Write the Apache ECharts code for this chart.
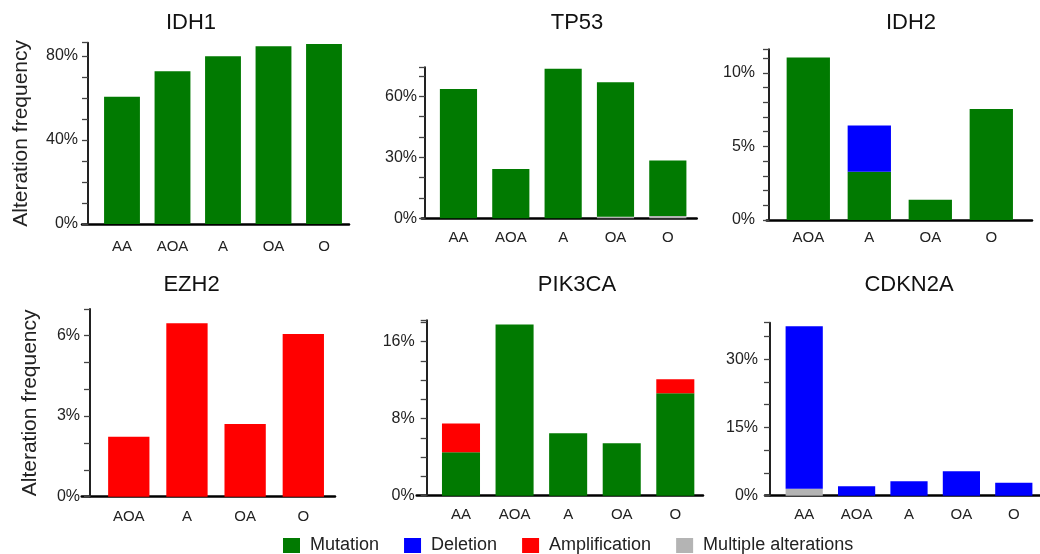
<!DOCTYPE html>
<html><head><meta charset="utf-8">
<script src="https://cdn.jsdelivr.net/npm/echarts@6/dist/echarts.min.js"></script>
<style>html,body{margin:0;padding:0;background:#fff}#c{width:1040px;height:554px}</style>
</head><body><div id="c"></div>
<script>
// ---------- data ----------
const idh1Categories = ['AA', 'AOA', 'A', 'OA', 'O'];
const idh1Mutation = [60.6, 72.7, 79.8, 84.6, 85.7];

const tp53Categories = ['AA', 'AOA', 'A', 'OA', 'O'];
const tp53Mutation = [63.6, 24.3, 73.6, 66.2, 27.4];
const tp53Multiple = [0, 0, 0, 0.8, 1.1];

const idh2Categories = ['AOA', 'A', 'OA', 'O'];
const idh2Mutation = [11.05, 3.28, 1.38, 7.54];
const idh2Deletion = [0, 3.15, 0, 0];

const ezh2Categories = ['AOA', 'A', 'OA', 'O'];
const ezh2Amplification = [2.23, 6.45, 2.70, 6.05];

const pik3caCategories = ['AA', 'AOA', 'A', 'OA', 'O'];
const pik3caMutation = [4.5, 17.76, 6.47, 5.43, 10.64];
const pik3caAmplification = [3.0, 0, 0, 0, 1.45];

const cdkn2aCategories = ['AA', 'AOA', 'A', 'OA', 'O'];
const cdkn2aMultiple = [1.5, 0, 0, 0, 0];
const cdkn2aDeletion = [35.7, 2.1, 3.15, 5.35, 2.86];

const panelTitles = ['IDH1', 'TP53', 'IDH2', 'EZH2', 'PIK3CA', 'CDKN2A'];
const axisMaxima = [86.3, 74.3, 11.6, 6.98, 18.2, 38];
const tickSteps = [10, 10, 1, 1, 2, 5];
const labelSteps = [40, 30, 5, 3, 8, 15];
const legendNames = ['Mutation', 'Deletion', 'Amplification', 'Multiple alterations'];
const yAxisTitle = 'Alteration frequency';

// ---------- panel composition ----------
const panelCategories = [idh1Categories, tp53Categories, idh2Categories, ezh2Categories, pik3caCategories, cdkn2aCategories];
const panelSeriesData = [
  {'Mutation': idh1Mutation},
  {'Multiple alterations': tp53Multiple, 'Mutation': tp53Mutation},
  {'Mutation': idh2Mutation, 'Deletion': idh2Deletion},
  {'Amplification': ezh2Amplification},
  {'Mutation': pik3caMutation, 'Amplification': pik3caAmplification},
  {'Multiple alterations': cdkn2aMultiple, 'Deletion': cdkn2aDeletion}
];
const stackOrder = ['Multiple alterations', 'Mutation', 'Deletion', 'Amplification'];
const typeColors = {'Mutation': '#017a01', 'Deletion': '#0000ff', 'Amplification': '#ff0000', 'Multiple alterations': '#b4b4b4'};

// ---------- layout (pixels) ----------
const panelLayout = [
  {lineL: 82, axisX: 88, lineR: 349, barL: 96.75, barR: 349.25, top: 42.7, zero: 224, titleX: 191, titleY: 23, catMargin: 15, labelMargin: 10, nameGap: 56},
  {lineL: 421.7, axisX: 425, lineR: 696.7, barL: 432.3, barR: 694, top: 67.3, zero: 218.3, titleX: 577, titleY: 23, catMargin: 12, labelMargin: 8},
  {lineL: 766.7, axisX: 769, lineR: 1032, barL: 777.8, barR: 1021.8, top: 49.3, zero: 220, titleX: 911, titleY: 23, catMargin: 10, labelMargin: 14},
  {lineL: 81.7, axisX: 90, lineR: 335, barL: 99.7, barR: 332.4, top: 309, zero: 496.7, titleX: 191.5, titleY: 285, catMargin: 13, labelMargin: 10, nameGap: 49},
  {lineL: 416.7, axisX: 426.7, lineR: 703, barL: 434.2, barR: 702.1, top: 320.3, zero: 495.7, titleX: 577, titleY: 285, catMargin: 12, labelMargin: 12},
  {lineL: 765, axisX: 770, lineR: 1045, barL: 778, barR: 1048, top: 322.7, zero: 495.7, titleX: 909, titleY: 285, catMargin: 12, labelMargin: 12}
];

const FONT = '"Liberation Sans", Arial, Helvetica, sans-serif';

const option = {
  animation: false,
  backgroundColor: '#ffffff',
  grid: [], xAxis: [], yAxis: [], series: [], graphic: [],
  legend: {
    data: legendNames, left: 278, top: 531.5, itemWidth: 17, itemHeight: 15, itemGap: 25, icon: 'rect',
    textStyle: {fontSize: 18, color: '#222', fontFamily: FONT, padding: [0, 0, 0, 5]},
    selectedMode: false
  }
};

panelLayout.forEach((L, i) => {
  const h = L.zero - L.top;
  const ga = 2 * i, gb = 2 * i + 1;
  option.grid.push({left: L.lineL, top: L.top, width: L.lineR - L.lineL, height: h});
  option.grid.push({left: L.barL, top: L.top, width: L.barR - L.barL, height: h});
  const step = labelSteps[i];
  option.xAxis.push({
    type: 'value', gridIndex: ga, min: 0, max: 1,
    axisLine: {show: true, onZero: false, lineStyle: {color: '#000', width: 2.5}},
    axisTick: {show: false}, axisLabel: {show: false}, splitLine: {show: false}
  });
  option.yAxis.push({
    type: 'value', gridIndex: ga, min: 0, max: axisMaxima[i], interval: tickSteps[i],
    offset: -(L.axisX - L.lineL), z: 5,
    axisLine: {show: true, lineStyle: {color: '#222', width: 2}},
    axisTick: {show: true, length: 6, lineStyle: {color: '#444', width: 1.3}},
    axisLabel: {
      margin: L.labelMargin, fontSize: 16, color: '#222', fontFamily: FONT,
      showMaxLabel: true,
      formatter: v => (Math.abs(v / step - Math.round(v / step)) < 1e-6 ? Math.round(v) + '%' : '')
    },
    splitLine: {show: false},
    name: L.nameGap ? yAxisTitle : '', nameLocation: 'middle', nameRotate: 90, nameGap: L.nameGap || 0,
    nameTextStyle: {fontSize: 21, color: '#222', fontFamily: FONT}
  });
  option.xAxis.push({
    type: 'category', gridIndex: gb, data: panelCategories[i],
    axisLine: {show: false}, axisTick: {show: false},
    axisLabel: {margin: L.catMargin, fontSize: 15, color: '#222', fontFamily: FONT, interval: 0}
  });
  option.yAxis.push({type: 'value', gridIndex: gb, min: 0, max: axisMaxima[i], show: false, splitLine: {show: false}});
  stackOrder.forEach(name => {
    const d = panelSeriesData[i][name];
    if (!d) return;
    option.series.push({
      type: 'bar', name: name, xAxisIndex: gb, yAxisIndex: gb, stack: 'p' + i,
      data: d, barWidth: '71%', itemStyle: {color: typeColors[name]}
    });
  });
  option.graphic.push({
    type: 'text', x: L.titleX, y: L.titleY,
    style: {text: panelTitles[i], fontSize: 22, fontFamily: FONT, fill: '#111', align: 'center', verticalAlign: 'middle'}
  });
});

const chart = echarts.init(document.getElementById('c'), null, {renderer: 'canvas'});
chart.setOption(option);
</script>
</body></html>
